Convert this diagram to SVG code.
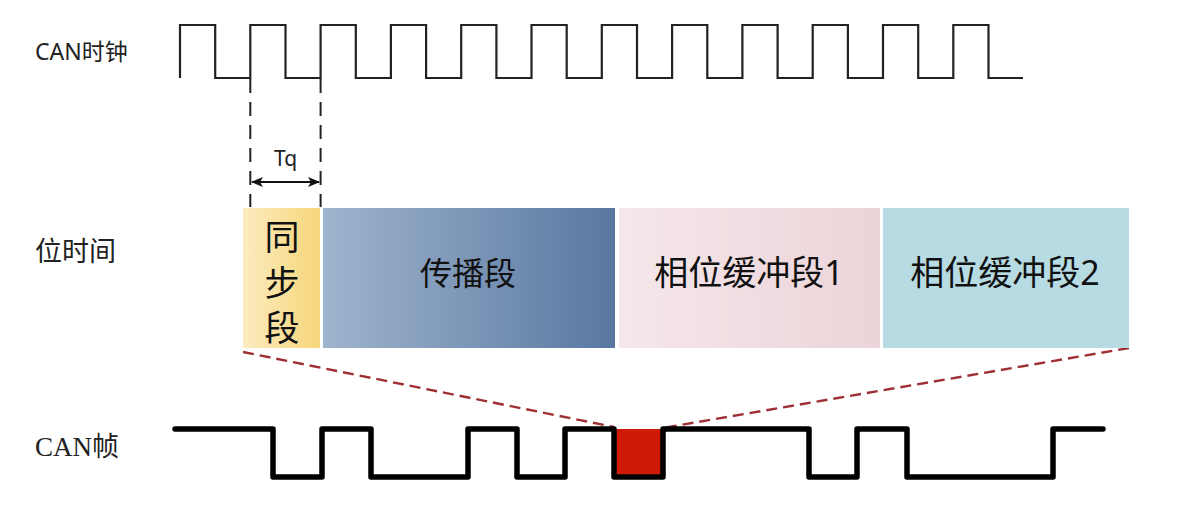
<svg xmlns="http://www.w3.org/2000/svg" width="1186" height="510" viewBox="0 0 1186 510">
<style>
.lbl{font-family:"Noto Sans","Noto Sans CJK SC",sans-serif;fill:#222}
.seg{font-family:"Noto Sans","Noto Sans CJK SC",sans-serif;fill:#111;text-anchor:middle;dominant-baseline:central}
.clk{fill:none;stroke:#222;stroke-width:2.2;stroke-linejoin:miter}
.frm{fill:none;stroke:#000;stroke-width:5.5;stroke-linejoin:round;stroke-linecap:round}
.vd{stroke:#222;stroke-width:2;stroke-dasharray:14 9}
.rd{stroke:#9e2f33;stroke-width:2.4;stroke-dasharray:11 6;fill:none}
</style>
<defs>
<linearGradient id="gy" x1="0" y1="0" x2="1" y2="0"><stop offset="0" stop-color="#fcebc0"/><stop offset="1" stop-color="#f6d679"/></linearGradient>
<linearGradient id="gb" x1="0" y1="0" x2="1" y2="0"><stop offset="0" stop-color="#9fb4cd"/><stop offset="1" stop-color="#5878a1"/></linearGradient>
<linearGradient id="gp" x1="0" y1="0" x2="1" y2="0"><stop offset="0" stop-color="#f5e7ea"/><stop offset="1" stop-color="#ecd4d9"/></linearGradient>
<marker id="ah" viewBox="0 0 12 10" refX="11" refY="5" markerWidth="12" markerHeight="10" markerUnits="userSpaceOnUse" orient="auto-start-reverse"><path d="M0,0 L12,5 L0,10 L3,5 Z" fill="#111"/></marker>
</defs>
<rect width="1186" height="510" fill="#fff"/>

<g id="labels">
<text class="lbl" x="35" y="60" font-size="23">CAN时钟</text>
<text class="lbl" x="35" y="261" font-size="27">位时间</text>
<text x="35" y="456" font-size="27" font-family="'Liberation Serif','Noto Sans CJK SC',serif" fill="#222">CAN帧</text>
</g>

<g id="clock">
<path class="clk" d="M180,78 V25 H215.2 V78 H250.3 V25 H285.5 V78 H320.6 V25 H355.8 V78 H390.9 V25 H426.1 V78 H461.2 V25 H496.4 V78 H531.5 V25 H566.7 V78 H601.8 V25 H637 V78 H672.1 V25 H707.3 V78 H742.4 V25 H777.6 V78 H812.7 V25 H847.9 V78 H883 V25 H918.2 V78 H953.3 V25 H988.5 V78 H1023"/>
</g>

<g id="connectors">
<line class="vd" x1="250.3" y1="79" x2="250.3" y2="207"/>
<line class="vd" x1="320.6" y1="79" x2="320.6" y2="207"/>
<line x1="252" y1="182" x2="319" y2="182" stroke="#111" stroke-width="2" marker-start="url(#ah)" marker-end="url(#ah)"/>
<line class="rd" x1="243" y1="352" x2="614" y2="427"/>
<line class="rd" x1="1129" y1="348" x2="663" y2="428"/>
</g>
<text class="lbl" x="285.5" y="166" font-size="21" text-anchor="middle">Tq</text>

<g id="sync-seg">
<rect x="243" y="208" width="77" height="140" fill="url(#gy)"/>
<text class="seg" x="282" y="236" font-size="35">同</text>
<text class="seg" x="282" y="282" font-size="35">步</text>
<text class="seg" x="282" y="327" font-size="35">段</text>
</g>
<g id="prop-seg">
<rect x="323" y="208" width="292" height="140" fill="url(#gb)"/>
<text class="seg" x="468" y="272" font-size="32">传播段</text>
</g>
<g id="phase1-seg">
<rect x="619" y="208" width="261" height="140" fill="url(#gp)"/>
<text class="seg" x="749" y="272" font-size="34">相位缓冲段1</text>
</g>
<g id="phase2-seg">
<rect x="883" y="208" width="246" height="140" fill="#b7dbe3"/>
<text class="seg" x="1005" y="272" font-size="34">相位缓冲段2</text>
</g>

<g id="can-frame">
<rect x="614" y="429" width="49" height="48" fill="#d01a08"/>
<path class="frm" d="M175,429 H273 V477 H322 V429 H371 V477 H468 V429 H517 V477 H565 V429 H614 V477 H663 V429 H809 V477 H857 V429 H907 V477 H1053 V429 H1103"/>
</g>
</svg>
